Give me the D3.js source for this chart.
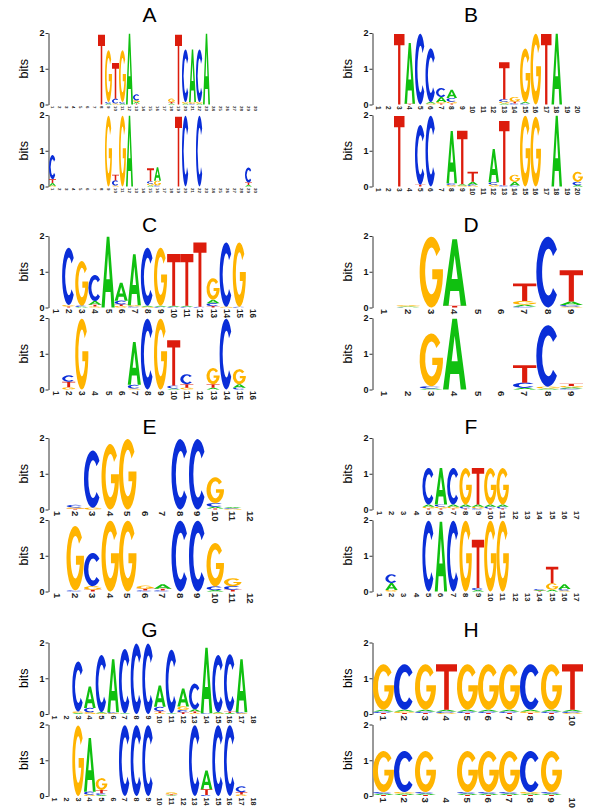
<!DOCTYPE html>
<html>
<head>
<meta charset="utf-8">
<script src="https://cdn.jsdelivr.net/npm/d3@7"></script>
<style>
  body { margin: 0; background: #fff; }
  svg { display: block; }
  text { font-family: "Liberation Sans", Arial, Helvetica, sans-serif; }
</style>
</head>
<body>
<svg width="600" height="811"></svg>
<script>
// DATA: information content (bits) per position
const panelNames = ["A", "B", "C", "D", "E", "F", "G", "H"];
const motifLengths = [30, 20, 16, 9, 12, 17, 18, 10];
const bitTicks = [0, 1, 2];

const logoA_top = {
  8: {T: 1.95}, 9: {G: 1.45, C: 0.04, A: 0.03}, 10: {T: 1.0, C: 0.13, G: 0.03},
  11: {G: 1.45, C: 0.04, A: 0.03}, 12: {A: 1.98}, 13: {C: 0.16, G: 0.05, A: 0.04, T: 0.03},
  18: {G: 0.09, T: 0.04, A: 0.03}, 19: {T: 1.95}, 20: {C: 1.47, G: 0.04, A: 0.03},
  21: {A: 1.47, G: 0.04, C: 0.03}, 22: {C: 1.47, G: 0.04, A: 0.03}, 23: {A: 1.98}
};
const logoA_bottom = {
  1: {C: 0.68, T: 0.1, A: 0.08, G: 0.02}, 9: {G: 1.98}, 10: {T: 0.16, C: 0.14, G: 0.03},
  11: {G: 1.98}, 12: {A: 1.98}, 15: {T: 0.36, C: 0.07, G: 0.05, A: 0.03},
  16: {A: 0.38, G: 0.13, C: 0.03}, 19: {T: 1.95}, 20: {C: 1.98}, 22: {C: 1.98},
  29: {C: 0.42, T: 0.07, A: 0.04}
};
const logoB_top = {
  3: {T: 1.97}, 4: {A: 1.7, T: 0.02}, 5: {C: 1.98}, 6: {C: 1.5, A: 0.04, G: 0.03},
  7: {C: 0.25, A: 0.14, G: 0.04, T: 0.03}, 8: {A: 0.23, C: 0.1, G: 0.05, T: 0.03},
  13: {T: 1.03, C: 0.07, G: 0.05, A: 0.03}, 14: {G: 0.13, T: 0.05, C: 0.03},
  15: {G: 1.5, A: 0.04, C: 0.03}, 16: {G: 1.98}, 17: {T: 1.97}, 18: {A: 1.98}
};
const logoB_bottom = {
  3: {T: 1.97}, 5: {C: 1.67, T: 0.05}, 6: {C: 1.98}, 8: {A: 1.46, C: 0.05, G: 0.04},
  9: {T: 1.5, G: 0.03, A: 0.03}, 10: {T: 0.28, A: 0.08, C: 0.03, G: 0.02},
  12: {A: 0.93, C: 0.07, G: 0.05}, 13: {T: 1.8, C: 0.03}, 14: {G: 0.2, A: 0.1, C: 0.03},
  15: {G: 1.98}, 16: {G: 1.95}, 18: {A: 1.98}, 20: {G: 0.28, C: 0.09, A: 0.04}
};
const logoC_top = {
  2: {C: 1.6, G: 0.04, T: 0.03}, 3: {G: 1.25, C: 0.03, A: 0.02}, 4: {C: 0.73, A: 0.1, T: 0.05, G: 0.03},
  5: {A: 1.98}, 6: {A: 0.5, C: 0.1, T: 0.05, G: 0.04}, 7: {A: 1.43, C: 0.03, G: 0.03},
  8: {C: 1.62, A: 0.03, G: 0.02}, 9: {G: 1.62, A: 0.03, C: 0.02}, 10: {T: 1.45, A: 0.03, C: 0.02},
  11: {T: 1.45, A: 0.03, C: 0.02}, 12: {T: 1.8, C: 0.02}, 13: {G: 0.6, A: 0.1, C: 0.08, T: 0.04},
  14: {C: 1.8, G: 0.02}, 15: {G: 1.8, C: 0.02}
};
const logoC_bottom = {
  2: {C: 0.17, T: 0.16, G: 0.06}, 3: {G: 1.98}, 7: {A: 1.2, C: 0.1, G: 0.03}, 8: {C: 1.98},
  9: {G: 1.98}, 10: {T: 1.27, C: 0.08, A: 0.03}, 11: {C: 0.28, T: 0.1, G: 0.05},
  13: {G: 0.45, T: 0.1, A: 0.05}, 14: {C: 1.98}, 15: {G: 0.42, A: 0.1, C: 0.05}
};
const logoD_top = {
  2: {G: 0.03, A: 0.02, C: 0.01}, 3: {G: 1.98}, 4: {A: 1.86, T: 0.05},
  7: {T: 0.49, G: 0.1, A: 0.05, C: 0.03}, 8: {C: 1.98}, 9: {T: 0.87, A: 0.1, C: 0.04, G: 0.03}
};
const logoD_bottom = {
  3: {G: 1.48, C: 0.06, A: 0.03}, 4: {A: 1.98}, 7: {T: 0.49, C: 0.14, A: 0.05},
  8: {C: 1.72, G: 0.05, A: 0.03}, 9: {T: 0.06, G: 0.04, C: 0.03, A: 0.03}
};
const logoE_top = {
  2: {C: 0.07, G: 0.04, T: 0.02}, 3: {C: 1.6, G: 0.05}, 4: {G: 1.83}, 5: {G: 1.97},
  8: {C: 1.97}, 9: {C: 1.97}, 10: {G: 0.72, C: 0.1, A: 0.05, T: 0.03}, 11: {A: 0.03, G: 0.02, C: 0.02}
};
const logoE_bottom = {
  2: {G: 1.8, C: 0.03}, 3: {C: 0.93, G: 0.1, T: 0.05}, 4: {G: 1.98}, 5: {G: 1.98},
  6: {G: 0.08, T: 0.05, C: 0.03}, 7: {A: 0.12, T: 0.05, C: 0.03}, 8: {C: 1.98}, 9: {C: 1.98},
  10: {G: 1.22, C: 0.1, A: 0.04}, 11: {G: 0.22, C: 0.1, T: 0.05}
};
const logoF_top = {
  5: {C: 1.02, A: 0.06, G: 0.05, T: 0.03}, 6: {A: 1.02, C: 0.06, G: 0.05, T: 0.03},
  7: {C: 1.02, A: 0.06, G: 0.05, T: 0.03}, 8: {G: 1.02, A: 0.06, C: 0.05, T: 0.03},
  9: {T: 1.02, A: 0.06, G: 0.05, C: 0.03}, 10: {G: 1.02, A: 0.06, C: 0.05, T: 0.03},
  11: {G: 1.02, A: 0.06, C: 0.05, T: 0.03}
};
const logoF_bottom = {
  2: {C: 0.24, A: 0.2, G: 0.04}, 5: {C: 1.98}, 6: {A: 1.95}, 7: {C: 1.98}, 8: {G: 1.98},
  9: {T: 1.35, C: 0.06, A: 0.04}, 10: {G: 1.98}, 11: {G: 1.98}, 14: {C: 0.03, T: 0.02, A: 0.02},
  15: {T: 0.46, G: 0.18, A: 0.05}, 16: {A: 0.13, C: 0.04, G: 0.03}
};
const logoG_top = {
  3: {C: 1.4, G: 0.04, A: 0.03}, 4: {A: 0.6, C: 0.12, G: 0.05}, 5: {C: 1.6, A: 0.03, G: 0.02},
  6: {A: 1.48, C: 0.03, G: 0.02}, 7: {C: 1.8, A: 0.02}, 8: {C: 1.97}, 9: {C: 1.97},
  10: {A: 0.6, C: 0.12, T: 0.05, G: 0.03}, 11: {C: 1.78, A: 0.02}, 12: {A: 0.5, G: 0.1, C: 0.06, T: 0.05},
  13: {C: 0.72, A: 0.06, T: 0.04, G: 0.03}, 14: {A: 1.83, C: 0.02}, 15: {C: 1.6, A: 0.03, G: 0.02},
  16: {C: 1.6, T: 0.04, A: 0.03}, 17: {A: 1.48, C: 0.03, G: 0.02}
};
const logoG_bottom = {
  3: {G: 1.97}, 4: {A: 1.5, C: 0.08, G: 0.04}, 5: {G: 0.33, T: 0.09, C: 0.05, A: 0.03},
  7: {C: 1.98}, 8: {C: 1.98}, 9: {C: 1.98}, 11: {G: 0.05, T: 0.03, A: 0.02}, 13: {C: 1.98},
  14: {A: 0.52, T: 0.16, C: 0.03}, 15: {C: 1.98}, 16: {C: 1.98}, 17: {C: 0.16, T: 0.07, G: 0.04}
};
const logoH_top = {
  1: {G: 1.27, A: 0.05, C: 0.04, T: 0.03}, 2: {C: 1.27, A: 0.05, G: 0.04, T: 0.03},
  3: {G: 1.27, A: 0.05, C: 0.04, T: 0.03}, 4: {T: 1.27, A: 0.05, C: 0.04, G: 0.03},
  5: {G: 1.27, A: 0.05, C: 0.04, T: 0.03}, 6: {G: 1.27, A: 0.05, C: 0.04, T: 0.03},
  7: {G: 1.27, A: 0.05, C: 0.04, T: 0.03}, 8: {C: 1.27, A: 0.05, G: 0.04, T: 0.03},
  9: {G: 1.27, A: 0.05, C: 0.04, T: 0.03}, 10: {T: 1.27, A: 0.05, C: 0.04, G: 0.03}
};
const logoH_bottom = {
  1: {G: 1.15, A: 0.04, C: 0.04, T: 0.03}, 2: {C: 1.15, A: 0.04, G: 0.04, T: 0.03},
  3: {G: 1.15, A: 0.04, C: 0.04, T: 0.03}, 5: {G: 1.15, A: 0.04, C: 0.04, T: 0.03},
  6: {G: 1.15, A: 0.04, C: 0.04, T: 0.03}, 7: {G: 1.15, A: 0.04, C: 0.04, T: 0.03},
  8: {C: 1.15, A: 0.04, G: 0.04, T: 0.03}, 9: {G: 1.15, A: 0.04, C: 0.04, T: 0.03}
};

const logos = [
  [logoA_top, logoA_bottom], [logoB_top, logoB_bottom],
  [logoC_top, logoC_bottom], [logoD_top, logoD_bottom],
  [logoE_top, logoE_bottom], [logoF_top, logoF_bottom],
  [logoG_top, logoG_bottom], [logoH_top, logoH_bottom]
];

// STYLE
const baseColor = {A: "#10c010", C: "#0a2ed8", G: "#ffb400", T: "#dc1c0c"};
// letter outlines in a 100x100 box, stretched to each stack cell
const glyphs = {
  A: {rule: "evenodd", d: "M0,100L40,0H60L100,100H76L69,78H31L24,100Z M37,60H63L50,24Z"},
  C: {rule: "nonzero", d: "M88.3,17.9A50,50 0 1 0 88.3,82.1L71.5,72.5A27,33 0 1 1 71.5,27.5Z"},
  G: {rule: "nonzero", d: "M88.3,17.9A50,50 0 1 0 99.7,55.2L99.7,46H54V60H75.8A27,33 0 1 1 71.5,27.5Z"},
  T: {rule: "nonzero", d: "M0,0H100V16H61V100H39V16H0Z"}
};

const svg = d3.select("svg");
const axisXs = [48.5, 372.5];
const rowTops = [33, 236, 438, 642.5];
const titleYs = [22, 232, 434, 637];
const titleXs = [149.5, 471];
const logoW = 210;
const logoH = 71.5;
const lowerOffset = 82;

panelNames.forEach((name, p) => {
  const col = p % 2, row = Math.floor(p / 2);
  const ax = axisXs[col];
  const n = motifLengths[p];
  const g = svg.append("g").attr("class", "panel");

  g.append("text")
    .attr("x", titleXs[col]).attr("y", titleYs[row])
    .attr("text-anchor", "middle")
    .attr("font-size", 21)
    .text(name);

  const x = d3.scaleBand()
    .domain(d3.range(1, n + 1))
    .range([ax + 0.5, ax + 0.5 + logoW]);
  const bw = x.bandwidth();

  logos[p].forEach((logo, k) => {
    const top = rowTops[row] + k * lowerOffset;
    const y = d3.scaleLinear().domain([0, 2]).range([top + logoH, top]);
    const lg = g.append("g");

    // y axis
    lg.append("g")
      .attr("transform", `translate(${ax},0)`)
      .call(d3.axisLeft(y).tickValues(bitTicks).tickSize(3).tickSizeOuter(0).tickPadding(1).tickFormat(d3.format("d")))
      .call(s => s.select(".domain").attr("stroke", "#333"))
      .call(s => s.selectAll(".tick line").attr("stroke", "#333"))
      .call(s => s.selectAll(".tick text")
        .attr("font-family", "'Liberation Sans', Arial, sans-serif")
        .attr("font-weight", "bold").attr("font-size", 9).attr("fill", "#111"));

    lg.append("text")
      .attr("transform", `translate(${ax - 25},${(y(0) + y(2)) / 2}) rotate(-90)`)
      .attr("text-anchor", "middle")
      .attr("dominant-baseline", "central")
      .attr("font-size", 12.5)
      .text("bits");

    // position labels
    const fs = Math.min(9.5, bw * 0.62);
    lg.selectAll("text.pos")
      .data(d3.range(1, n + 1))
      .join("text")
      .attr("class", "pos")
      .attr("transform", d => `translate(${x(d) + bw / 2},${y(0) + 1.5}) rotate(90)`)
      .attr("dominant-baseline", "central")
      .attr("font-size", fs)
      .attr("font-weight", "bold")
      .attr("fill", "#222")
      .text(d => d);

    // stacks: smallest at the bottom, largest on top
    const stacks = [];
    d3.range(1, n + 1).forEach(pos => {
      const c = logo[pos];
      if (!c) return;
      const letters = Object.entries(c).sort((a, b) => a[1] - b[1]);
      let cum = 0;
      letters.forEach(([base, v]) => {
        stacks.push({pos, base, y0: cum, y1: cum + v});
        cum += v;
      });
    });

    lg.selectAll("g.letter")
      .data(stacks)
      .join("g")
      .attr("class", "letter")
      .attr("transform", d => {
        const h = y(d.y0) - y(d.y1);
        return `translate(${x(d.pos)},${y(d.y1)}) scale(${bw / 100},${h / 100})`;
      })
      .append("path")
      .attr("d", d => glyphs[d.base].d)
      .attr("fill-rule", d => glyphs[d.base].rule)
      .attr("fill", d => baseColor[d.base]);
  });
});
</script>
</body>
</html>
